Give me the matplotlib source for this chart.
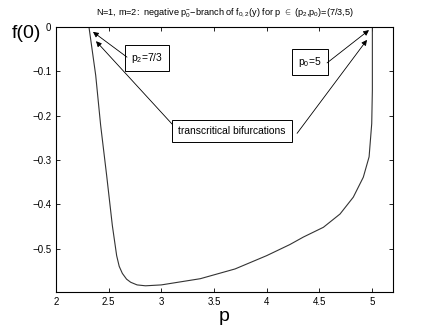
import numpy as np
import matplotlib
matplotlib.use('Agg')
import matplotlib.pyplot as plt

p_vals = [2.313, 2.377, 2.424, 2.481, 2.535, 2.576, 2.60, 2.63, 2.67, 2.709, 2.77, 2.85,
          3.0, 3.37, 3.7, 4.0, 4.22, 4.349, 4.539, 4.697, 4.823, 4.918, 4.973, 4.998, 5.004, 5.004]
f_vals = [0.0, -0.109, -0.222, -0.335, -0.448, -0.516, -0.540, -0.556, -0.569, -0.576, -0.582, -0.584,
          -0.582, -0.568, -0.546, -0.516, -0.491, -0.474, -0.452, -0.422, -0.384, -0.339, -0.293, -0.218, -0.143, 0.0]

xticks = [2, 2.5, 3, 3.5, 4, 4.5, 5]
xtick_labels = ['2', '2.5', '3', '3.5', '4', '4.5', '5']
yticks = [0, -0.1, -0.2, -0.3, -0.4, -0.5]
ytick_labels = ['0', '\u22120.1', '\u22120.2', '\u22120.3', '\u22120.4', '\u22120.5']

plt.rcParams['font.family'] = ['Liberation Sans', 'DejaVu Sans']
plt.rcParams['mathtext.fontset'] = 'custom'
plt.rcParams['mathtext.rm'] = 'Liberation Sans'
plt.rcParams['mathtext.it'] = 'Liberation Sans'

fig = plt.figure(figsize=(4.35, 3.26), dpi=100)
ax = fig.add_axes([56/435, 1-292/326, (393-56)/435, (292-27)/326])

ax.plot(p_vals, f_vals, color='#333333', lw=0.8)
ax.set_xlim(2, 5.2)
ax.set_ylim(-0.598, 0)
ax.set_xticks(xticks)
ax.set_xticklabels(xtick_labels)
ax.set_yticks(yticks)
ax.set_yticklabels(ytick_labels)
ax.tick_params(direction='in', top=True, right=True, labelsize=7, length=3, width=0.6)
for s in ax.spines.values():
    s.set_linewidth(0.8)

ax.set_xlabel('p', fontsize=14, labelpad=1)
fig.text(12/435, 1-33/326, 'f(0)', fontsize=14, va='center', ha='left')
ax.set_title(r'N=1, m=2:  negative p$_0^{-}$$-$branch of f$_{0,2}$(y) for p $\in$ (p$_2$,p$_0$)=(7/3,5)',
             fontsize=6.6, pad=8)

box = dict(boxstyle='square,pad=0.6', fc='white', ec='black', lw=0.7)
arr = dict(arrowstyle='-|>', color='black', lw=0.6, mutation_scale=8, shrinkA=0, shrinkB=0)

ax.text(2.864, -0.070, r'p$_2$=7/3', fontsize=7.4, ha='center', va='center', bbox=box)
ax.text(4.412, -0.079, r'p$_0$=5', fontsize=7.4, ha='center', va='center', bbox=box)
ax.text(3.671, -0.235, 'transcritical bifurcations', fontsize=7.4, ha='center', va='center', bbox=box)

ax.annotate('', xy=(2.351, -0.011), xytext=(2.674, -0.068), arrowprops=arr)
ax.annotate('', xy=(4.972, -0.007), xytext=(4.574, -0.081), arrowprops=arr)
ax.annotate('', xy=(2.38, -0.032), xytext=(3.102, -0.219), arrowprops=arr)
ax.annotate('', xy=(4.953, -0.029), xytext=(4.289, -0.240), arrowprops=arr)

fig.savefig('out.png', dpi=100)
